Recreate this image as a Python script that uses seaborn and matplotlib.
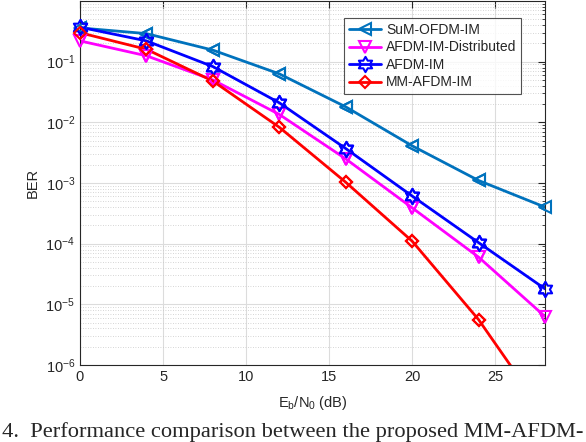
import numpy as np
import pandas as pd
import matplotlib
matplotlib.use("Agg")
import matplotlib.pyplot as plt
from matplotlib.path import Path
from matplotlib.ticker import LogLocator, NullFormatter, FixedLocator
import seaborn as sns

snr_db = [0, 4, 8, 12, 16, 20, 24, 28]
ber_sum_ofdm_im = [0.36, 0.29, 0.155, 0.063, 0.018, 0.0041, 0.0011, 0.0004]
ber_afdm_im_dist = [0.22, 0.125, 0.05, 0.0135, 0.0025, 0.00039, 0.00006, 0.0000063]
ber_afdm_im = [0.37, 0.22, 0.083, 0.021, 0.0037, 0.00061, 0.000104, 0.000018]
ber_mm_afdm_im = [0.30, 0.16, 0.048, 0.0083, 0.00103, 0.00011, 0.0000056, 0.00000015]
series_names = ["SuM-OFDM-IM", "AFDM-IM-Distributed", "AFDM-IM", "MM-AFDM-IM"]
x_ticks = [0, 5, 10, 15, 20, 25]
caption = "4.  Performance comparison between the proposed MM-AFDM-"

# hexagram marker
ang = np.deg2rad(np.arange(12) * 30 + 90)
rad = np.where(np.arange(12) % 2 == 0, 1.0, 0.577)
verts = np.column_stack([rad * np.cos(ang), rad * np.sin(ang)])
verts = np.vstack([verts, verts[:1]])
codes = [Path.MOVETO] + [Path.LINETO] * 11 + [Path.CLOSEPOLY]
hexagram = Path(verts, codes)

sns.set_style("white")
plt.rcParams["font.family"] = ["Liberation Sans", "DejaVu Sans"]
plt.rcParams["mathtext.fontset"] = "custom"
plt.rcParams["mathtext.rm"] = "Liberation Sans"
plt.rcParams["mathtext.it"] = "Liberation Sans"

fig = plt.figure(figsize=(5.86, 4.42), dpi=100)
ax = fig.add_axes([80 / 586, 1 - 365 / 442, 465 / 586, 364 / 442])

styles = [
    (ber_sum_ofdm_im, "#0072BD", "<", 8),
    (ber_afdm_im_dist, "#FF00FF", "v", 8),
    (ber_afdm_im, "#0000FF", hexagram, 11),
    (ber_mm_afdm_im, "#FF0000", "D", 6.5),
]
for name, (vals, col, mk, ms) in zip(series_names, styles):
    sns.lineplot(x=snr_db, y=vals, ax=ax, color=col, linewidth=2, marker=mk,
                 markersize=ms, markerfacecolor="none", markeredgecolor=col,
                 markeredgewidth=1.5, label=name)

ax.set_yscale("log")
ax.set_xlim(0, 28)
ax.set_ylim(1e-6, 1)
ax.xaxis.set_major_locator(FixedLocator(x_ticks))
ax.yaxis.set_minor_locator(LogLocator(base=10, subs=np.arange(2, 10), numticks=20))
ax.yaxis.set_minor_formatter(NullFormatter())
ax.set_yticks([1e-6, 1e-5, 1e-4, 1e-3, 1e-2, 1e-1])
ax.set_yticklabels([r"10$^{-6}$", r"10$^{-5}$", r"10$^{-4}$", r"10$^{-3}$", r"10$^{-2}$", r"10$^{-1}$"])

# markers drawn unclipped at the axes edge (as in the reference)
for vals, col, mk, ms in styles:
    xd = np.asarray(snr_db, dtype=float)
    yd = np.asarray(vals, dtype=float)
    keep = yd >= 1e-6
    ax.plot(xd[keep], yd[keep], linestyle="none", marker=mk, markersize=ms,
            markerfacecolor="none", markeredgecolor=col, markeredgewidth=1.5,
            clip_on=False, zorder=3)

ax.grid(True, which="major", color="#dcdcdc", linewidth=0.8, linestyle="-")
ax.grid(True, which="minor", axis="y", color="#c8c8c8", linewidth=0.6, linestyle=(0, (1, 2)))
ax.set_axisbelow(True)
ax.tick_params(which="both", direction="in", top=True, right=True, labelsize=10.5, colors="#262626")
ax.tick_params(which="major", length=5)
ax.tick_params(which="minor", length=2.5)
for s in ax.spines.values():
    s.set_color("#262626")
    s.set_linewidth(0.8)

ax.set_xlabel(r"E$_{\rm b}$/N$_{\rm 0}$ (dB)", fontsize=10.5, color="#262626", labelpad=7)
ax.set_ylabel("BER", fontsize=10.5, color="#262626", labelpad=4)

leg = ax.legend(loc="upper right", bbox_to_anchor=(0.964, 0.972), fontsize=10,
                frameon=True, fancybox=False, edgecolor="#262626", handlelength=2.3,
                borderpad=0.35, labelspacing=0.25, handletextpad=0.4)
leg.get_frame().set_linewidth(0.8)

fig.text(0.004, 0.012, caption, fontsize=16.2, family=["Liberation Serif", "DejaVu Serif"],
         ha="left", va="baseline")

fig.savefig("out.png", dpi=100)
